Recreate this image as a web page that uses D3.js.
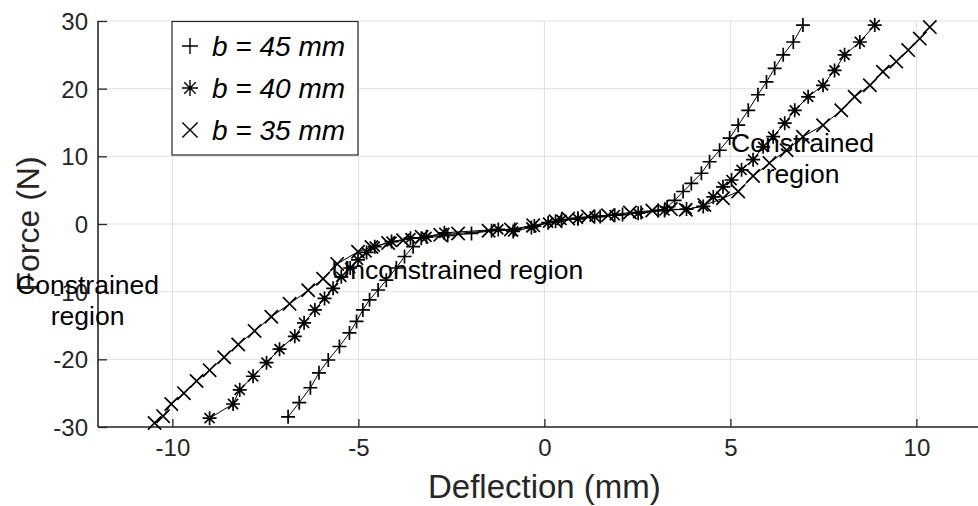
<!DOCTYPE html>
<html><head><meta charset="utf-8">
<script src="https://cdn.jsdelivr.net/npm/d3@7"></script>
<style>html,body{margin:0;padding:0;background:#fff;} svg{display:block;font-family:"Liberation Sans",Arial,sans-serif;}</style>
</head><body><svg id="c" width="978" height="506"></svg>
<script>
// ---- data ----
const xTicks = [-10, -5, 0, 5, 10];
const yTicks = [-30, -20, -10, 0, 10, 20, 30];
const seriesNames = ["b = 45 mm", "b = 40 mm", "b = 35 mm"];
const seriesMarkers = ["plus", "star", "cross"];

const b45X = [-6.89,-6.59,-6.29,-6.06,-5.81,-5.51,-5.24,-5.05,-4.88,-4.70,-4.47,-4.25,-3.98,-3.76,-3.53,-3.31,-2.6,-1.96,-1.42,-0.8,-0.27,0.3,0.9,1.5,2.1,2.6,3.06,3.3,3.50,3.73,3.95,4.22,4.44,4.71,4.98,5.21,5.48,5.74,5.97,6.19,6.42,6.69,6.95];
const b45Y = [-28.5,-26.4,-24.2,-22.0,-20.1,-18.1,-16.1,-14.4,-12.7,-11.2,-9.75,-8.3,-6.5,-4.8,-3.35,-2.1,-1.7,-1.4,-1.0,-0.8,-0.3,0.4,0.8,1.1,1.4,1.7,2.0,2.5,3.5,4.8,6.0,7.5,9.2,10.9,12.7,14.6,16.8,19.1,21.0,23.0,25.0,26.9,29.4];

const b40X = [-9.0,-8.37,-8.19,-7.83,-7.47,-7.12,-6.71,-6.46,-6.17,-5.91,-5.68,-5.46,-5.22,-5.01,-4.78,-4.56,-4.11,-3.6,-3.17,-2.69,-1.24,-0.84,-0.35,0.1,0.46,0.9,1.35,1.89,2.52,3.23,3.82,4.27,4.54,4.80,5.03,5.30,5.61,5.88,6.15,6.46,6.73,7.09,7.49,7.80,8.07,8.48,8.88];
const b40Y = [-28.7,-26.6,-24.5,-22.5,-20.5,-18.5,-16.6,-14.6,-12.7,-11.0,-9.5,-7.8,-6.5,-5.3,-4.2,-3.35,-2.6,-2.1,-1.9,-1.3,-0.8,-1.1,-0.5,0.2,0.6,0.8,1.1,1.3,1.6,2.0,2.2,2.6,4.0,5.5,6.5,8.0,9.5,11.4,12.9,14.9,16.8,18.8,20.5,22.7,25.0,26.9,29.4];

const b35X = [-10.48,-10.25,-10.03,-9.69,-9.35,-9.0,-8.61,-8.23,-7.79,-7.34,-6.85,-6.35,-5.95,-5.57,-5.01,-4.65,-4.2,-3.8,-3.3,-2.8,-2.32,-1.5,-0.9,-0.3,0.3,0.64,1.17,1.71,2.3,2.9,3.4,3.8,4.3,4.8,5.21,5.61,6.05,6.51,6.95,7.49,7.98,8.34,8.75,9.10,9.46,9.78,10.09,10.36];
const b35Y = [-29.4,-28.4,-26.6,-25.0,-23.2,-21.6,-19.7,-17.8,-15.8,-13.7,-11.8,-9.8,-8.1,-5.9,-4.1,-3.4,-2.8,-2.4,-1.9,-1.6,-1.4,-1.0,-0.8,-0.2,0.4,0.8,1.1,1.3,1.7,2.0,2.2,2.1,2.8,3.8,4.8,7.1,9.0,10.9,12.9,14.6,16.8,18.8,20.5,22.5,24.0,25.7,27.4,29.1];

const annotations = [
  {lines: ["Constrained", "region"], x: -12.28, y: -10.34, anchor: "middle"},
  {lines: ["Unconstrained region"], x: -5.73, y: -8.12, anchor: "start"},
  {lines: ["Constrained", "region"], x: 6.94, y: 10.63, anchor: "middle"}
];

// ---- chart ----
const svg = d3.select("#c");
const W = 978, H = 506;
const plotLeft = 98, plotTop = 21, plotBottom = 427;
const x = d3.scaleLinear().domain([-12, 12]).range([plotLeft, plotLeft + 24 * 37.2]);
const y = d3.scaleLinear().domain([-30, 30]).range([plotBottom, plotTop]);
const axisColor = "#262626";

svg.append("rect").attr("width", W).attr("height", H).attr("fill", "#fff");

// grid
const g = svg.append("g");
g.selectAll("line.gx").data(xTicks).join("line")
  .attr("x1", d => x(d)).attr("x2", d => x(d)).attr("y1", plotTop).attr("y2", plotBottom)
  .attr("stroke", "#dfdfdf").attr("stroke-width", 1);
g.selectAll("line.gy").data(yTicks).join("line")
  .attr("y1", d => y(d)).attr("y2", d => y(d)).attr("x1", plotLeft).attr("x2", W)
  .attr("stroke", "#dfdfdf").attr("stroke-width", 1);

// axes
const xAxis = d3.axisBottom(x).tickValues(xTicks).tickSizeInner(-8).tickSizeOuter(0).tickPadding(12).tickFormat(d3.format("d"));
const yAxis = d3.axisLeft(y).tickValues(yTicks).tickSizeInner(-9).tickSizeOuter(0).tickPadding(10).tickFormat(d3.format("d"));
const gx = svg.append("g").attr("transform", `translate(0,${plotBottom})`).call(xAxis);
const gy = svg.append("g").attr("transform", `translate(${plotLeft},0)`).call(yAxis);
[gx, gy].forEach(a => {
  a.select(".domain").attr("stroke", axisColor).attr("stroke-width", 1.6);
  a.selectAll(".tick line").attr("stroke", axisColor).attr("stroke-width", 1.3);
  a.selectAll(".tick text").attr("fill", axisColor).attr("font-size", 24)
    .attr("font-family", "Liberation Sans, Arial, sans-serif").text(d => d < 0 ? "-" + Math.abs(d) : d);
});
gx.select(".domain").attr("d", `M${plotLeft},0H${W}`);
gy.select(".domain").attr("d", `M0,${plotTop}V${plotBottom}`);
gy.selectAll(".tick text").attr("dy", "0.35em");
gx.selectAll(".tick text").attr("dy", "0.71em");

svg.append("text").attr("x", x(0)).attr("y", 498).attr("text-anchor", "middle")
  .attr("font-size", 33).attr("fill", axisColor).text("Deflection (mm)");
svg.append("text").attr("transform", `translate(39,${y(0)}) rotate(-90)`).attr("text-anchor", "middle")
  .attr("font-size", 32).attr("fill", axisColor).text("Force (N)");

// markers
function markerPath(type, s) {
  if (type === "plus") return `M${-s},0H${s}M0,${-s}V${s}`;
  if (type === "cross") { const c = s * 0.95; return `M${-c},${-c}L${c},${c}M${-c},${c}L${c},${-c}`; }
  const c = s * 0.72;
  return `M${-s},0H${s}M0,${-s}V${s}M${-c},${-c}L${c},${c}M${-c},${c}L${c},${-c}`;
}

const series = [
  {xs: b45X, ys: b45Y, m: seriesMarkers[0]},
  {xs: b40X, ys: b40Y, m: seriesMarkers[1]},
  {xs: b35X, ys: b35Y, m: seriesMarkers[2]}
];
const plot = svg.append("g");
const line = d3.line().x(d => x(d[0])).y(d => y(d[1]));
series.forEach(s => {
  const pts = s.xs.map((v, i) => [v, s.ys[i]]);
  plot.append("path").attr("d", line(pts)).attr("fill", "none").attr("stroke", "#000").attr("stroke-width", 1);
  plot.selectAll(null).data(pts).join("path")
    .attr("transform", d => `translate(${x(d[0])},${y(d[1])})`)
    .attr("d", markerPath(s.m, 7)).attr("stroke", "#000").attr("stroke-width", 1.7).attr("fill", "none");
});

// annotations
annotations.forEach(a => {
  const t = svg.append("text").attr("font-size", 26.5).attr("fill", "#000").attr("text-anchor", a.anchor);
  a.lines.forEach((l, i) => {
    t.append("tspan").attr("x", x(a.x)).attr("y", y(a.y) + i * 31).text(l);
  });
});

// legend
const lg = svg.append("g");
lg.append("rect").attr("x", 172).attr("y", 21.5).attr("width", 186).attr("height", 133.5)
  .attr("fill", "#fff").attr("stroke", axisColor).attr("stroke-width", 1.2);
seriesNames.forEach((n, i) => {
  const cy = 46 + i * 42;
  lg.append("path").attr("transform", `translate(190,${cy})`).attr("d", markerPath(seriesMarkers[i], 8))
    .attr("stroke", "#000").attr("stroke-width", 1.4).attr("fill", "none");
  lg.append("text").attr("x", 212).attr("y", cy + 10).attr("font-size", 28).attr("font-style", "italic")
    .attr("fill", "#000").text(n);
});
</script></body></html>
